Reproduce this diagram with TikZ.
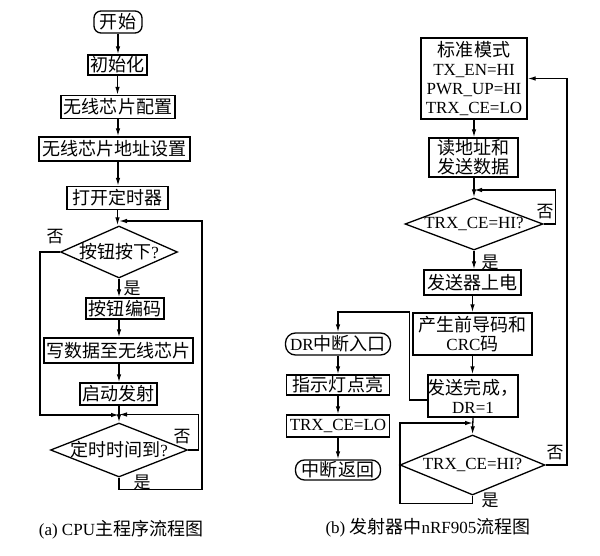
\documentclass[tikz,border=0pt]{standalone}
\usepackage{fontspec}
\setmainfont{Liberation Serif}
\newfontfamily\cjk[Scale=1.06]{Noto Sans CJK SC}
\usetikzlibrary{shapes.geometric,arrows.meta}
\newcommand\zh[1]{{\cjk #1}}
\begin{document}
\begin{tikzpicture}[x=1pt,y=-1pt,
  every node/.style={font=\fontsize{17}{19}\selectfont, inner sep=0pt},
  arr/.style={line width=1.3pt,-{Latex[length=8pt,width=4.5pt]}},
  box/.style 2 args={draw, line width=1.3pt, minimum width=#1 pt, minimum height=#2 pt, align=center},
  term/.style 2 args={box={#1}{#2}, rounded corners=7pt},
  dia/.style 2 args={draw, line width=1.3pt, diamond, minimum width=#1 pt, minimum height=#2 pt},
  lbl/.style={font=\fontsize{16}{16}\selectfont},
  captext/.style={font=\fontsize{17}{19}\selectfont}
]
\useasboundingbox (0,0) rectangle (600,556);
\fill[white] (0,0) rectangle (600,556);

% ---------- (a) ----------
\node[term={48}{22}] (start) at (118,22) {\zh{开始}};
\node[box={59}{20}] (init) at (117.5,65) {\zh{初始化}};
\node[box={114}{23}] (cfg) at (118,107) {\zh{无线芯片配置}};
\node[box={151}{24}] (addr) at (114.5,149) {\zh{无线芯片地址设置}};
\node[box={101}{23}] (timer) at (117.5,198) {\zh{打开定时器}};
\node[dia={117}{52}, label={center:\zh{按钮按下}?}] (d1) at (119,252) {};
\node[box={78}{21}] (enc) at (125,308.5) {\zh{按钮编码}};
\node[box={149}{25}] (write) at (118.5,350.5) {\zh{写数据至无线芯片}};
\node[box={77}{22}] (launch) at (118.5,394) {\zh{启动发射}};
\node[dia={137}{54}, label={center:\zh{定时时间到}?}] (d2) at (119,450) {};

\coordinate (j1) at (119,221);
\coordinate (j2) at (119,415);
\coordinate (lA) at (40,0);
\coordinate (rA) at (202,221);

\draw[arr] (start.south) -- (start.south |- init.north);
\draw[arr] (init.south) -- (init.south |- cfg.north);
\draw[arr] (cfg.south) -- (cfg.south |- addr.north);
\draw[arr] (cfg.south |- addr.south) -- (cfg.south |- timer.north);
\draw[arr] (timer.south) -- (timer.south |- d1.north);
\draw[arr] (d1.south) -- (d1.south |- enc.north);
\draw[arr] (d1.south |- enc.south) -- (d1.south |- write.north);
\draw[arr] (d1.south |- write.south) -- (d1.south |- launch.north);
\draw[arr] (d1.south |- launch.south) -- (d2.north);
\draw[arr] (d1.west) -| (lA |- j2) -- (j2);
\draw[arr] (d2.east) -- ++(10,0) |- ([yshift=0.5pt]j2);
\draw[arr] (d2.south) -- ++(0,12) -| (rA) -- (j1);

\node[lbl] (n1) at (55,237) {\zh{否}};
\node[lbl] (y1) at (132,288) {\zh{是}};
\node[lbl] (n2) at (182,437) {\zh{否}};
\node[lbl] (y2) at (142,482) {\zh{是}};

\node[captext] (capa) at (121,530) {(a) CPU\zh{主程序流程图}};

% ---------- (b) ----------
\node[box={106}{81}] (std) at (474,78.5) {\zh{标准模式}\\TX\_EN=HI\\PWR\_UP=HI\\TRX\_CE=LO};
\node[box={89}{39}] (read) at (473.5,157.5) {\zh{读地址和}\\\zh{发送数据}};
\node[dia={138}{52}, label={center:TRX\_CE=HI?}] (d3) at (474,224) {};
\node[box={97}{25}] (power) at (472.5,282.5) {\zh{发送器上电}};
\node[box={119}{42}] (pre) at (472.5,334) {\zh{产生前导码和}\\CRC\zh{码}};
\node[box={90}{42}] (done) at (473,396) {\zh{发送完成，}\\DR=1};
\node[dia={145}{60}, label={center:TRX\_CE=HI?}] (d4) at (472.5,465) {};

\node[term={105}{22}, rounded corners=10pt] (dr) at (338,344) {DR\zh{中断入口}};
\node[box={103}{20}] (led) at (338,385) {\zh{指示灯点亮}};
\node[box={103}{22}] (trxlo) at (338,426) {TRX\_CE=LO};
\node[term={85}{20}, rounded corners=9pt] (ret) at (338,470) {\zh{中断返回}};

\coordinate (j3) at (474,190);
\coordinate (j4) at (473,423);
\coordinate (lB) at (400,0);
\coordinate (rB) at (567,0);
\coordinate (tB) at (0,312);

\draw[arr] (std.south) -- (std.south |- read.north);
\draw[arr] (std.south |- read.south) -- (d3.north);
\draw[arr] (d3.east) -- ++(12,0) |- (j3);
\draw[arr] (d3.south) -- (d3.south |- power.north);
\draw[arr] (power.south) -- (power.south |- pre.north);
\draw[arr] (pre.south) -- (pre.south |- done.north);
\draw[arr] (done.south) -- (d4.north);
\draw[arr] (d4.south) -- ++(0,8) -| (lB |- j4) -- (j4);
\draw[arr] (d4.east) -| (rB |- std.east) -- (std.east);
\draw[arr] ([yshift=-4pt]done.west) -- ++(-18,0) |- (dr.north |- tB) -- (dr.north);
\draw[arr] (dr.south) -- (dr.south |- led.north);
\draw[arr] (led.south) -- (led.south |- trxlo.north);
\draw[arr] (trxlo.south) -- (trxlo.south |- ret.north);

\node[lbl] (n3) at (545,212) {\zh{否}};
\node[lbl] (y3) at (490,262) {\zh{是}};
\node[lbl] (y4) at (490,500) {\zh{是}};
\node[lbl] (n4) at (555,453) {\zh{否}};

\node[captext] (capb) at (428,528) {(b) \zh{发射器中}nRF905\zh{流程图}};
\end{tikzpicture}
\end{document}
